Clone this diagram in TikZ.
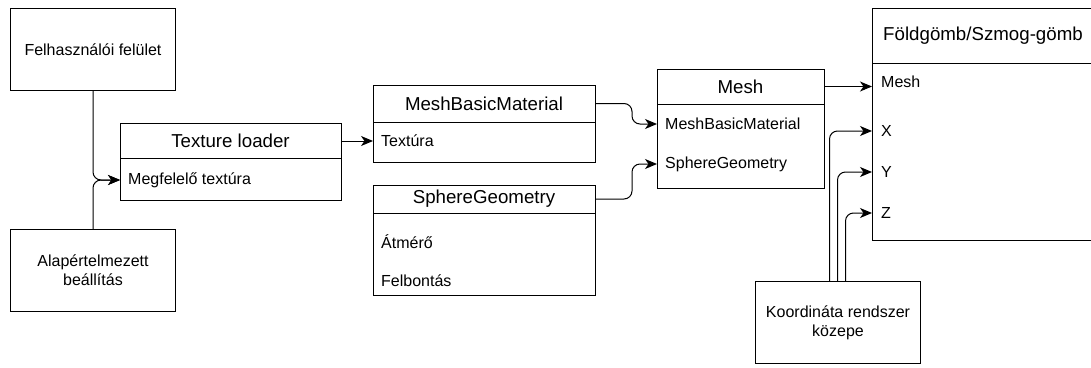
\documentclass[tikz,border=0pt]{standalone}
\usepackage{fontspec}
\setmainfont{Liberation Sans}
\usetikzlibrary{arrows.meta}
\begin{document}
\begin{tikzpicture}[x=1pt,y=-1pt,
  box/.style={draw=black, line width=1pt, rectangle, anchor=north west, inner sep=0pt, align=center, font=\fontsize{16}{19}\selectfont},
  hdr/.style={inner sep=0pt, anchor=center, font=\fontsize{18.7}{22}\selectfont},
  row/.style={inner sep=0pt, anchor=west, font=\fontsize{16}{19}\selectfont},
  sep/.style={line width=1pt},
  conn/.style={line width=1pt, rounded corners=8pt, -{Stealth[length=12pt,width=10pt,inset=3.5pt]}}]
\clip (0,0) rectangle (1091,367);
\fill[white] (0,0) rectangle (1091,367);

% simple boxes
\node[box, minimum width=165pt, minimum height=82pt] (felh) at (10,8) {Felhasználói felület};
\node[box, minimum width=165pt, minimum height=82pt] (alap) at (10,229) {Alapértelmezett\\beállítás};
\node[box, minimum width=165pt, minimum height=82pt] (koord) at (755,281) {Koordináta rendszer\\közepe};

% Texture loader
\node[box, minimum width=221pt, minimum height=77pt] (tl) at (120,123) {};
\draw[sep] (120,158) -- (341,158);
\node[hdr] (tlh) at (230.5,140.5) {Texture loader};
\node[row] (tlr1) at (128,180) {Megfelelő textúra};

% MeshBasicMaterial
\node[box, minimum width=222pt, minimum height=77pt] (mbm) at (373,85) {};
\draw[sep] (373,122) -- (595,122);
\node[hdr] (mbmh) at (484,103.5) {MeshBasicMaterial};
\node[row] (mbmr1) at (381,141) {Textúra};

% SphereGeometry
\node[box, minimum width=222pt, minimum height=110pt] (sg) at (373,185) {};
\draw[sep] (373,213) -- (595,213);
\node[hdr] (sgh) at (484,199) {SphereGeometry};
\node[row] (sgr1) at (381,242) {Átmérő};
\node[row] (sgr2) at (381,281) {Felbontás};

% Mesh
\node[box, minimum width=167pt, minimum height=119pt] (mesh) at (657,69) {};
\draw[sep] (657,104) -- (824,104);
\node[hdr] (meshh) at (740.5,86.5) {Mesh};
\node[row] (meshr1) at (665,124) {MeshBasicMaterial};
\node[row] (meshr2) at (665,164) {SphereGeometry};

% Foldgomb
\node[box, minimum width=222pt, minimum height=232pt] (fg) at (872,8) {};
\draw[sep] (872,63) -- (1094,63);
\node[hdr] (fgh) at (983,35.5) {Földgömb/Szmog-gömb};
\node[row] (fgr1) at (881,82) {Mesh};
\node[row] (fgx) at (881,131) {X};
\node[row] (fgy) at (881,172) {Y};
\node[row] (fgz) at (881,213) {Z};

% connectors
\draw[conn] (felh.south) |- (tl.west |- tlr1);
\draw[conn] (alap.north) |- (tl.west |- tlr1);
\draw[conn] (tl.east |- mbmr1) -- (mbm.west |- mbmr1);
\draw[conn] (mbm.east |- mbmh) -- ++(36,0) |- (mesh.west |- meshr1);
\draw[conn] (sg.east |- sgh) -- ++(36,0) |- (mesh.west |- meshr2);
\draw[conn] (mesh.east |- meshh) -- (fg.west |- meshh);
\draw[conn] ([xshift=-8.5pt]koord.north) |- (fg.west |- fgx);
\draw[conn] ([xshift=-0.5pt]koord.north) |- (fg.west |- fgy);
\draw[conn] ([xshift=7.5pt]koord.north) |- (fg.west |- fgz);
\end{tikzpicture}
\end{document}
